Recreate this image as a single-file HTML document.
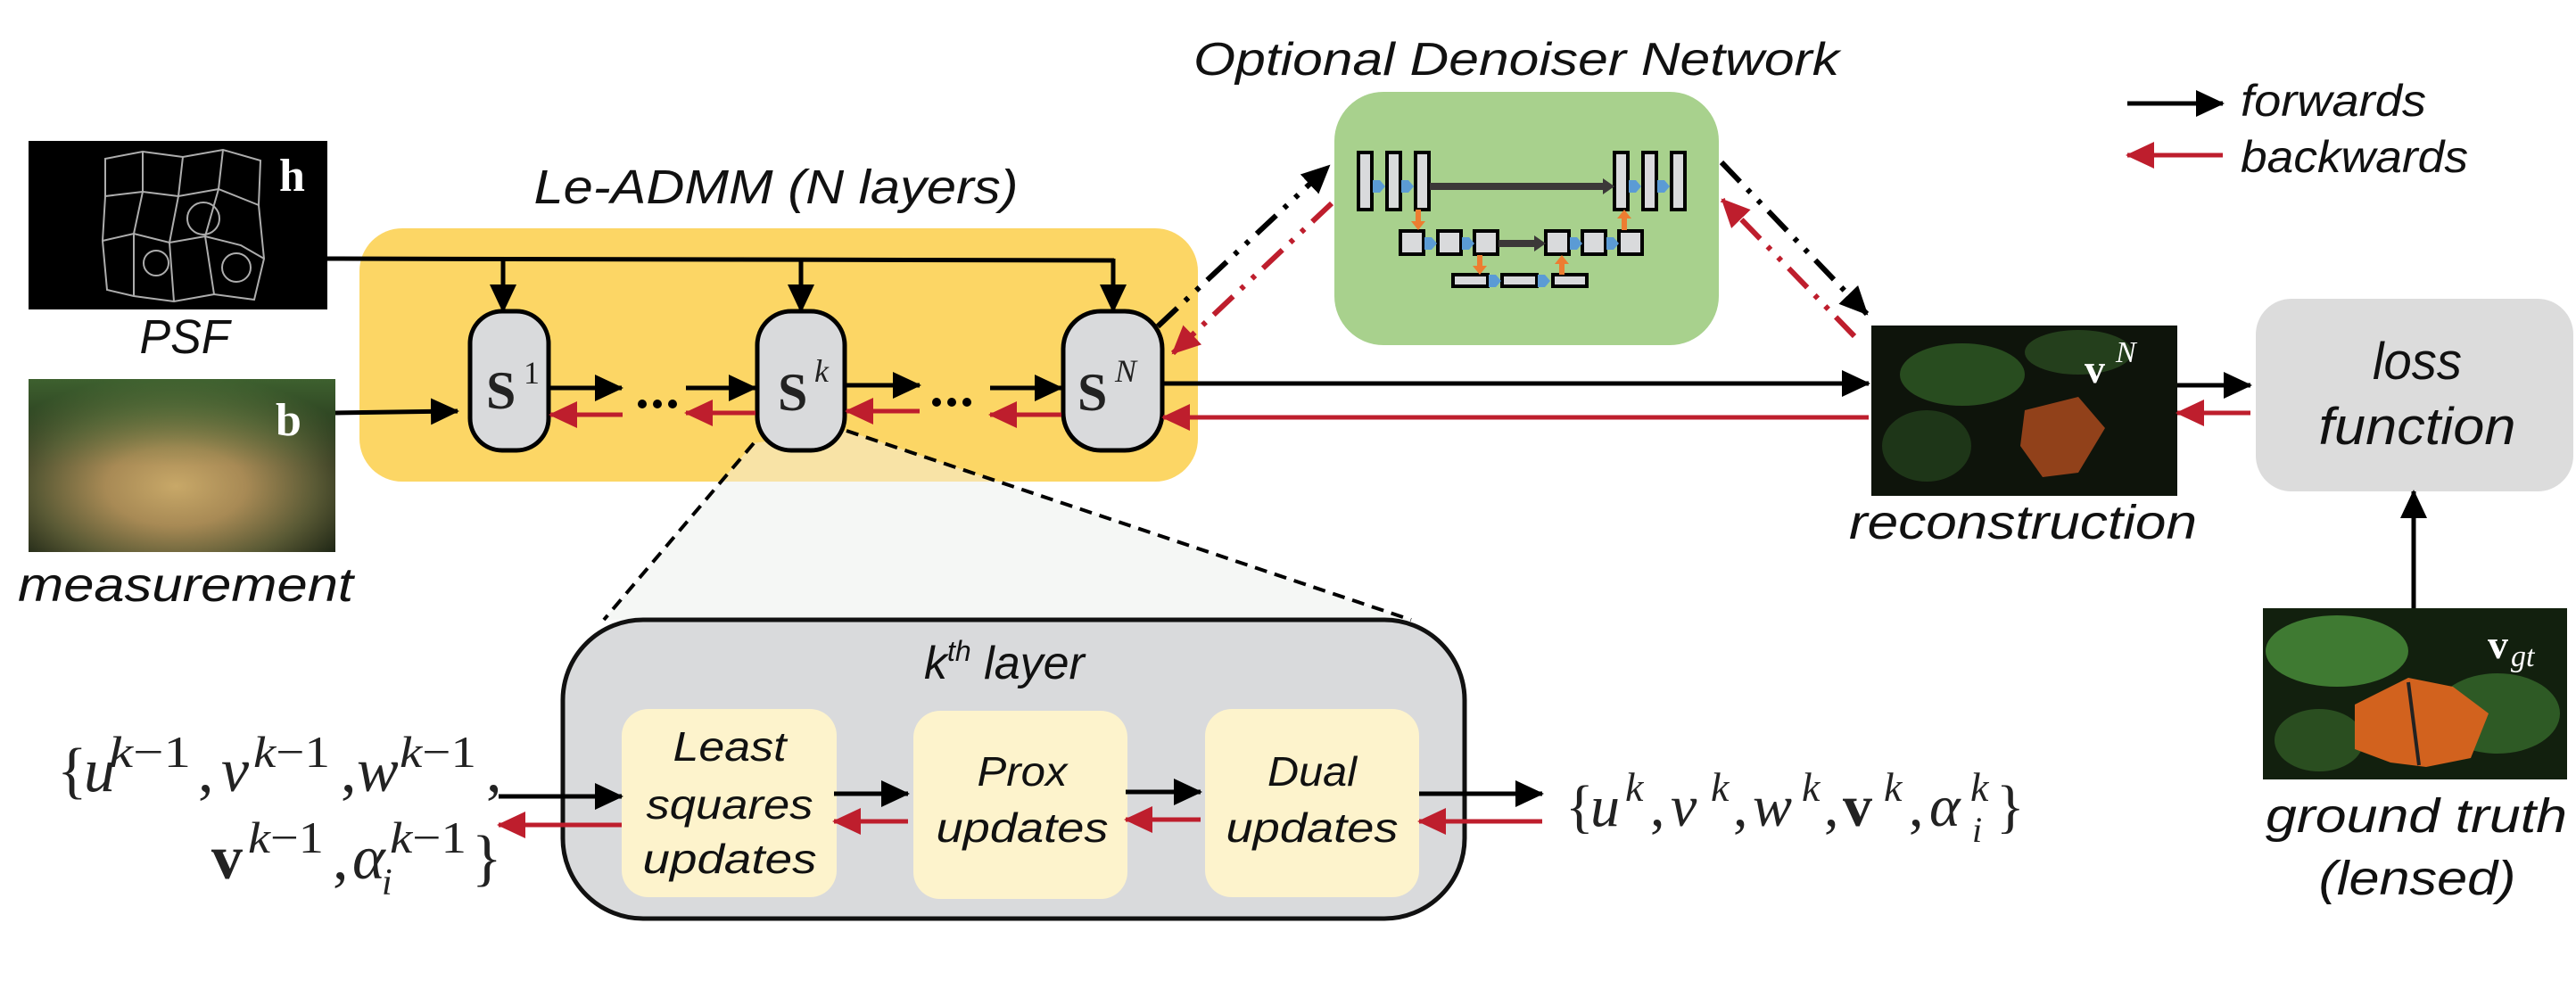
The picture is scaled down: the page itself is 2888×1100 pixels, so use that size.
<!DOCTYPE html>
<html><head><meta charset="utf-8"><style>
html,body{margin:0;padding:0;background:#fff;}
svg{display:block;}
.lab{font-family:"Liberation Sans",sans-serif;font-style:italic;fill:#111;}
.m{font-family:"Liberation Serif",serif;font-style:italic;fill:#222;}
.r{font-family:"Liberation Serif",serif;fill:#222;}
.mb{font-family:"Liberation Serif",serif;font-weight:bold;fill:#222;}
</style></head><body>
<svg width="2888" height="1100" viewBox="0 0 2888 1100" xmlns="http://www.w3.org/2000/svg">
<defs>
<marker id="ab" markerUnits="userSpaceOnUse" markerWidth="34" markerHeight="32" refX="30" refY="15" orient="auto"><path d="M0,0 L32,15 L0,30 z" fill="#000"/></marker>
<marker id="ar" markerUnits="userSpaceOnUse" markerWidth="34" markerHeight="32" refX="30" refY="15" orient="auto"><path d="M0,0 L32,15 L0,30 z" fill="#be1e2d"/></marker>
<radialGradient id="meas" cx="48%" cy="62%" r="65%"><stop offset="0" stop-color="#c8a868"/><stop offset="0.35" stop-color="#a88a55"/><stop offset="0.7" stop-color="#5a5a35"/><stop offset="1" stop-color="#1c2414"/></radialGradient>
<linearGradient id="meas2" x1="0" y1="0" x2="0" y2="1"><stop offset="0" stop-color="#4c7a3a" stop-opacity="0.7"/><stop offset="0.5" stop-color="#4c7a3a" stop-opacity="0"/></linearGradient>
<clipPath id="yc"><rect x="403" y="256" width="940" height="284" rx="48"/></clipPath>
</defs>

<!-- PSF image -->
<rect x="32" y="158" width="335" height="189" fill="#000"/>
<g fill="none" stroke="#ccc" stroke-width="2" opacity="0.85">
<path d="M118,178 L160,170 L205,176 L250,168 L292,180 L290,230 L296,290 L285,336 L240,330 L195,338 L150,332 L120,325 L115,270 L118,220 Z"/>
<path d="M118,220 L160,215 L200,220 L245,212 L290,230"/>
<path d="M115,270 L150,262 L190,272 L230,265 L270,275 L296,290"/>
<path d="M160,170 L160,215 L150,262 L150,332"/>
<path d="M205,176 L200,220 L190,272 L195,338"/>
<path d="M250,168 L245,212 L230,265 L240,330"/>
<circle cx="228" cy="245" r="18"/><circle cx="175" cy="295" r="14"/><circle cx="265" cy="300" r="16"/>
</g>
<text x="313" y="214" class="mb" font-size="52" style="fill:#fff">h</text>
<text x="207" y="396" class="lab" font-size="54" text-anchor="middle" textLength="101" lengthAdjust="spacingAndGlyphs">PSF</text>

<!-- measurement -->
<rect x="32" y="425" width="344" height="194" fill="url(#meas)"/>
<rect x="32" y="425" width="344" height="194" fill="url(#meas2)"/>
<text x="309" y="488" class="mb" font-size="52" style="fill:#fff">b</text>
<text x="208" y="674" class="lab" font-size="54" text-anchor="middle" textLength="376" lengthAdjust="spacingAndGlyphs">measurement</text>

<!-- Le-ADMM box -->
<text x="870" y="228" class="lab" font-size="54" text-anchor="middle" textLength="543" lengthAdjust="spacingAndGlyphs">Le-ADMM (N layers)</text>
<rect x="403" y="256" width="940" height="284" rx="48" fill="#fcd665"/>

<!-- zoom trapezoid -->
<polygon points="845,497 949,483 1582,695 677,695" fill="#f5f7f5"/>
<polygon points="845,497 949,483 1582,695 677,695" fill="#f8e3a6" clip-path="url(#yc)"/>
<line x1="845" y1="497" x2="677" y2="695" stroke="#000" stroke-width="4" stroke-dasharray="14 9"/>
<line x1="949" y1="483" x2="1582" y2="695" stroke="#000" stroke-width="4" stroke-dasharray="14 9"/>

<!-- top PSF line -->
<polyline points="367,290 1249,292" fill="none" stroke="#000" stroke-width="5"/>
<line x1="564" y1="291" x2="564" y2="349" stroke="#000" stroke-width="5" marker-end="url(#ab)"/>
<line x1="898" y1="291" x2="898" y2="349" stroke="#000" stroke-width="5" marker-end="url(#ab)"/>
<line x1="1248" y1="290" x2="1248" y2="349" stroke="#000" stroke-width="5" marker-end="url(#ab)"/>
<line x1="376" y1="463" x2="513" y2="461" stroke="#000" stroke-width="5" marker-end="url(#ab)"/>

<!-- S boxes -->
<rect x="527" y="349" width="88" height="156" rx="36" fill="#d9dadc" stroke="#000" stroke-width="5"/>
<rect x="849" y="349" width="98" height="156" rx="38" fill="#d9dadc" stroke="#000" stroke-width="5"/>
<rect x="1192" y="349" width="111" height="156" rx="42" fill="#d9dadc" stroke="#000" stroke-width="5"/>
<text x="545" y="458" class="mb" font-size="60">S</text><text x="587" y="430" class="r" font-size="36">1</text>
<text x="872" y="460" class="mb" font-size="60">S</text><text x="913" y="428" class="m" font-size="36">k</text>
<text x="1208" y="460" class="mb" font-size="60">S</text><text x="1250" y="428" class="m" font-size="36">N</text>

<!-- chain arrows -->
<g stroke-width="5">
<line x1="617" y1="435" x2="697" y2="435" stroke="#000" marker-end="url(#ab)"/>
<line x1="769" y1="435" x2="847" y2="435" stroke="#000" marker-end="url(#ab)"/>
<line x1="949" y1="432" x2="1031" y2="432" stroke="#000" marker-end="url(#ab)"/>
<line x1="1110" y1="435" x2="1190" y2="435" stroke="#000" marker-end="url(#ab)"/>
<line x1="698" y1="465" x2="617" y2="465" stroke="#be1e2d" marker-end="url(#ar)"/>
<line x1="847" y1="463" x2="769" y2="463" stroke="#be1e2d" marker-end="url(#ar)"/>
<line x1="1031" y1="461" x2="949" y2="461" stroke="#be1e2d" marker-end="url(#ar)"/>
<line x1="1190" y1="465" x2="1110" y2="465" stroke="#be1e2d" marker-end="url(#ar)"/>
<line x1="1303" y1="430" x2="2095" y2="430" stroke="#000" marker-end="url(#ab)"/>
<line x1="2095" y1="468" x2="1304" y2="468" stroke="#be1e2d" marker-end="url(#ar)"/>
</g>
<g fill="#000"><circle cx="720" cy="453" r="5"/><circle cx="737" cy="453" r="5"/><circle cx="754" cy="453" r="5"/>
<circle cx="1050" cy="451" r="5"/><circle cx="1067" cy="451" r="5"/><circle cx="1084" cy="451" r="5"/></g>

<!-- Denoiser -->
<text x="1700" y="84" class="lab" font-size="52" text-anchor="middle" textLength="724" lengthAdjust="spacingAndGlyphs">Optional Denoiser Network</text>
<rect x="1496" y="103" width="431" height="284" rx="55" fill="#a8d18d"/>
<g fill="#d9dadc" stroke="#000" stroke-width="4">
<rect x="1523" y="171" width="15" height="64"/><rect x="1555" y="171" width="15" height="64"/><rect x="1587" y="171" width="15" height="64"/>
<rect x="1810" y="171" width="15" height="64"/><rect x="1842" y="171" width="15" height="64"/><rect x="1874" y="171" width="15" height="64"/>
<rect x="1570" y="259" width="26" height="26"/><rect x="1612" y="259" width="26" height="26"/><rect x="1653" y="259" width="26" height="26"/>
<rect x="1733" y="259" width="26" height="26"/><rect x="1774" y="259" width="26" height="26"/><rect x="1815" y="259" width="26" height="26"/>
<rect x="1629" y="308" width="39" height="13"/><rect x="1684" y="308" width="39" height="13"/><rect x="1741" y="308" width="38" height="13"/>
</g>
<g fill="#3b3838"><rect x="1603" y="205" width="196" height="8"/><path d="M1797,200 L1810,209 L1797,218 z"/>
<rect x="1680" y="269" width="42" height="8"/><path d="M1720,264 L1733,273 L1720,282 z"/></g>
<g fill="#5b9bd5"><path d="M1539,202 L1547,202 L1553,209 L1547,216 L1539,216 z"/><path d="M1571,202 L1579,202 L1585,209 L1579,216 L1571,216 z"/>
<path d="M1826,202 L1834,202 L1840,209 L1834,216 L1826,216 z"/><path d="M1858,202 L1866,202 L1872,209 L1866,216 L1858,216 z"/>
<path d="M1597,266 L1605,266 L1611,273 L1605,280 L1597,280 z"/><path d="M1639,266 L1647,266 L1653,273 L1647,280 L1639,280 z"/>
<path d="M1760,266 L1768,266 L1774,273 L1768,280 L1760,280 z"/><path d="M1801,266 L1809,266 L1815,273 L1809,280 L1801,280 z"/>
<path d="M1669,308 L1677,308 L1683,315 L1677,322 L1669,322 z"/><path d="M1724,308 L1732,308 L1738,315 L1732,322 L1724,322 z"/></g>
<g fill="#ed7d31"><path d="M1587,235 L1593,235 L1593,248 L1598,248 L1590,258 L1582,248 L1587,248 z"/>
<path d="M1818,258 L1824,258 L1824,245 L1829,245 L1821,235 L1813,245 L1818,245 z"/>
<path d="M1656,286 L1662,286 L1662,298 L1667,298 L1659,308 L1651,298 L1656,298 z"/>
<path d="M1748,308 L1754,308 L1754,296 L1759,296 L1751,286 L1743,296 L1748,296 z"/></g>

<!-- dash-dot connectors -->
<g fill="none" stroke-width="6" stroke-dasharray="30 12 5 12 5 12">
<line x1="1298" y1="366" x2="1490" y2="186" stroke="#000" marker-end="url(#ab)"/>
<line x1="1493" y1="228" x2="1315" y2="396" stroke="#be1e2d" marker-end="url(#ar)"/>
<line x1="1930" y1="182" x2="2093" y2="352" stroke="#000" marker-end="url(#ab)"/>
<line x1="2079" y1="377" x2="1931" y2="224" stroke="#be1e2d" marker-end="url(#ar)"/>
</g>

<!-- legend -->
<line x1="2385" y1="116" x2="2492" y2="116" stroke="#000" stroke-width="5" marker-end="url(#ab)"/>
<line x1="2492" y1="174" x2="2385" y2="174" stroke="#be1e2d" stroke-width="5" marker-end="url(#ar)"/>
<text x="2512" y="130" class="lab" font-size="50" textLength="208" lengthAdjust="spacingAndGlyphs">forwards</text>
<text x="2512" y="193" class="lab" font-size="50" textLength="255" lengthAdjust="spacingAndGlyphs">backwards</text>

<!-- reconstruction -->
<rect x="2098" y="365" width="343" height="191" fill="#0e140b"/>
<ellipse cx="2200" cy="420" rx="70" ry="35" fill="#2f5a24" opacity="0.8"/>
<ellipse cx="2330" cy="395" rx="60" ry="25" fill="#2a4a20" opacity="0.8"/>
<ellipse cx="2160" cy="500" rx="50" ry="40" fill="#233f1c" opacity="0.8"/>
<path d="M2270,460 L2330,445 L2360,480 L2330,530 L2290,535 L2265,500 z" fill="#a0461c" opacity="0.9"/>
<text x="2337" y="429" class="mb" font-size="46" style="fill:#fff">v</text>
<text x="2372" y="406" class="m" font-size="34" style="fill:#fff">N</text>
<text x="2268" y="604" class="lab" font-size="54" text-anchor="middle" textLength="390" lengthAdjust="spacingAndGlyphs">reconstruction</text>

<line x1="2441" y1="432" x2="2523" y2="432" stroke="#000" stroke-width="5" marker-end="url(#ab)"/>
<line x1="2523" y1="463" x2="2441" y2="463" stroke="#be1e2d" stroke-width="5" marker-end="url(#ar)"/>

<!-- loss -->
<rect x="2529" y="335" width="356" height="216" rx="40" fill="#dcdcdc"/>
<text x="2710" y="425" class="lab" font-size="58" text-anchor="middle" textLength="100" lengthAdjust="spacingAndGlyphs">loss</text>
<text x="2710" y="498" class="lab" font-size="58" text-anchor="middle" textLength="221" lengthAdjust="spacingAndGlyphs">function</text>

<!-- ground truth -->
<line x1="2706" y1="682" x2="2706" y2="551" stroke="#000" stroke-width="5" marker-end="url(#ab)"/>
<rect x="2537" y="682" width="341" height="192" fill="#12200e"/>
<ellipse cx="2620" cy="730" rx="80" ry="40" fill="#3f7a32"/>
<ellipse cx="2800" cy="800" rx="70" ry="45" fill="#2e5a25"/>
<ellipse cx="2600" cy="830" rx="50" ry="35" fill="#2a4e20"/>
<path d="M2640,790 L2700,760 L2750,770 L2790,800 L2770,850 L2720,860 L2680,855 L2640,840 z" fill="#d2621e"/>
<path d="M2700,765 L2712,858" stroke="#222" stroke-width="4"/>
<text x="2789" y="738" class="mb" font-size="46" style="fill:#fff">v</text>
<text x="2815" y="747" class="m" font-size="34" style="fill:#fff">gt</text>
<text x="2709" y="933" class="lab" font-size="54" text-anchor="middle" textLength="338" lengthAdjust="spacingAndGlyphs">ground truth</text>
<text x="2710" y="1003" class="lab" font-size="54" text-anchor="middle" textLength="221" lengthAdjust="spacingAndGlyphs">(lensed)</text>

<!-- kth layer -->
<rect x="631" y="695" width="1011" height="335" rx="90" fill="#d9dadc" stroke="#111" stroke-width="5"/>
<text x="1036" y="761" class="lab" font-size="52">k<tspan font-size="32" dy="-20">th</tspan><tspan dy="20"> layer</tspan></text>
<rect x="697" y="795" width="241" height="211" rx="30" fill="#fdf3cc"/>
<rect x="1024" y="797" width="240" height="211" rx="30" fill="#fdf3cc"/>
<rect x="1351" y="795" width="240" height="211" rx="30" fill="#fdf3cc"/>
<text x="818" y="853" class="lab" font-size="46" text-anchor="middle" textLength="127" lengthAdjust="spacingAndGlyphs">Least</text>
<text x="818" y="918" class="lab" font-size="46" text-anchor="middle" textLength="187" lengthAdjust="spacingAndGlyphs">squares</text>
<text x="818" y="979" class="lab" font-size="46" text-anchor="middle" textLength="195" lengthAdjust="spacingAndGlyphs">updates</text>
<text x="1146" y="881" class="lab" font-size="46" text-anchor="middle" textLength="101" lengthAdjust="spacingAndGlyphs">Prox</text>
<text x="1146" y="944" class="lab" font-size="46" text-anchor="middle" textLength="193" lengthAdjust="spacingAndGlyphs">updates</text>
<text x="1471" y="881" class="lab" font-size="46" text-anchor="middle" textLength="100" lengthAdjust="spacingAndGlyphs">Dual</text>
<text x="1471" y="944" class="lab" font-size="46" text-anchor="middle" textLength="193" lengthAdjust="spacingAndGlyphs">updates</text>
<g stroke-width="5">
<line x1="559" y1="893" x2="697" y2="893" stroke="#000" marker-end="url(#ab)"/>
<line x1="697" y1="925" x2="559" y2="925" stroke="#be1e2d" marker-end="url(#ar)"/>
<line x1="935" y1="890" x2="1018" y2="890" stroke="#000" marker-end="url(#ab)"/>
<line x1="1018" y1="921" x2="935" y2="921" stroke="#be1e2d" marker-end="url(#ar)"/>
<line x1="1262" y1="888" x2="1346" y2="888" stroke="#000" marker-end="url(#ab)"/>
<line x1="1346" y1="919" x2="1262" y2="919" stroke="#be1e2d" marker-end="url(#ar)"/>
<line x1="1591" y1="890" x2="1729" y2="890" stroke="#000" marker-end="url(#ab)"/>
<line x1="1729" y1="921" x2="1591" y2="921" stroke="#be1e2d" marker-end="url(#ar)"/>
</g>

<!-- math left -->
<g font-size="70">
<text x="64" y="887" class="r">{</text>
<text x="94" y="887" class="m">u</text>
<text x="122" y="860" class="m" font-size="50" textLength="92" lengthAdjust="spacingAndGlyphs">k<tspan font-style="normal">−1</tspan></text>
<text x="222" y="887" class="r">,</text>
<text x="248" y="887" class="m">v</text>
<text x="284" y="860" class="m" font-size="50" textLength="86" lengthAdjust="spacingAndGlyphs">k<tspan font-style="normal">−1</tspan></text>
<text x="382" y="887" class="r">,</text>
<text x="400" y="887" class="m">w</text>
<text x="448" y="860" class="m" font-size="50" textLength="86" lengthAdjust="spacingAndGlyphs">k<tspan font-style="normal">−1</tspan></text>
<text x="545" y="887" class="r">,</text>

<text x="237" y="985" class="mb">v</text>
<text x="278" y="956" class="m" font-size="50" textLength="85" lengthAdjust="spacingAndGlyphs">k<tspan font-style="normal">−1</tspan></text>
<text x="373" y="985" class="r">,</text>
<text x="395" y="985" class="m">α</text>
<text x="437" y="956" class="m" font-size="50" textLength="86" lengthAdjust="spacingAndGlyphs">k<tspan font-style="normal">−1</tspan></text>
<text x="428" y="1003" class="m" font-size="42">i</text>
<text x="529" y="985" class="r">}</text>
</g>
<g font-size="66">
<!-- math right -->
<text x="1755" y="926" class="r">{</text>
<text x="1783" y="926" class="m">u</text>
<text x="1822" y="898" class="m" font-size="46">k</text>
<text x="1850" y="926" class="r">,</text>
<text x="1873" y="926" class="m">v</text>
<text x="1918" y="898" class="m" font-size="46">k</text>
<text x="1943" y="926" class="r">,</text>
<text x="1965" y="926" class="m">w</text>
<text x="2020" y="898" class="m" font-size="46">k</text>
<text x="2045" y="926" class="r">,</text>
<text x="2066" y="926" class="mb">v</text>
<text x="2112" y="898" class="m" font-size="46">k</text>
<text x="2140" y="926" class="r">,</text>
<text x="2163" y="926" class="m">α</text>
<text x="2209" y="898" class="m" font-size="46">k</text>
<text x="2211" y="944" class="m" font-size="40">i</text>
<text x="2238" y="926" class="r">}</text>
</g>
</svg>
</body></html>
